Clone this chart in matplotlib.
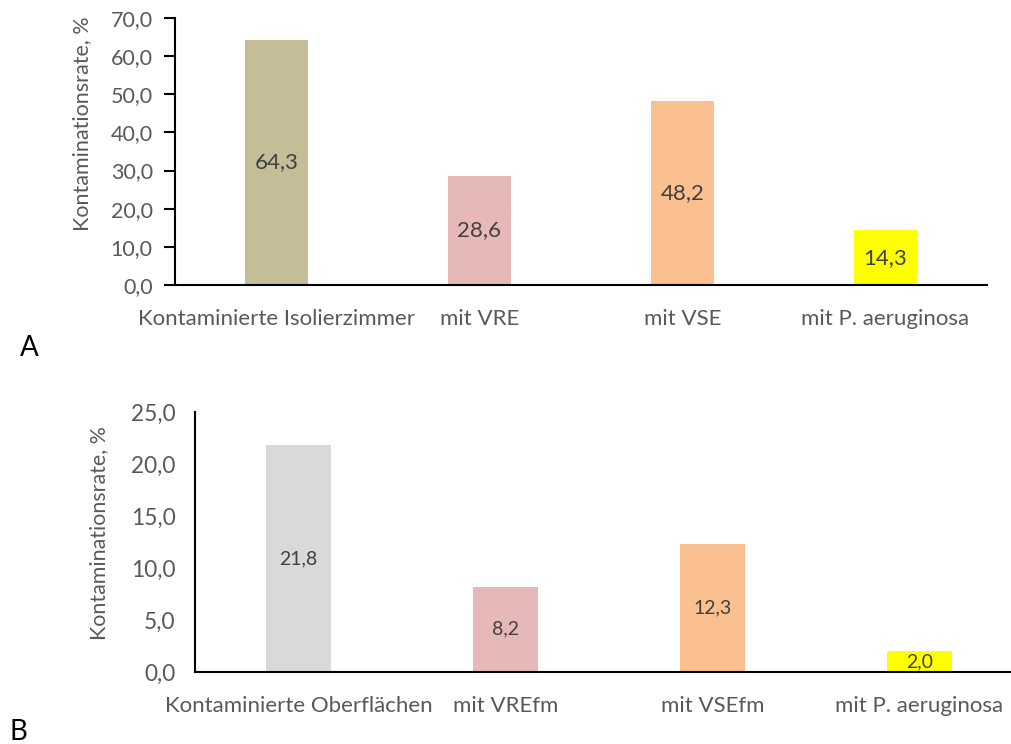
import matplotlib
matplotlib.use("Agg")
import matplotlib.pyplot as plt
from matplotlib.ticker import FixedLocator, FuncFormatter

plt.rcParams['font.family'] = ['Lato', 'DejaVu Sans']

cats_a = ["Kontaminierte Isolierzimmer", "mit VRE", "mit VSE", "mit P. aeruginosa"]
vals_a = [64.3, 28.6, 48.2, 14.3]
cols_a = ["#C4BD97", "#E6B9B8", "#FAC090", "#FFFF00"]

cats_b = ["Kontaminierte Oberflächen", "mit VREfm", "mit VSEfm", "mit P. aeruginosa"]
vals_b = [21.8, 8.2, 12.3, 2.0]
cols_b = ["#D9D9D9", "#E6B9B8", "#FAC090", "#FFFF00"]

ylabel = "Kontaminationsrate, %"

W, H = 1012, 744
fig = plt.figure(figsize=(W/100, H/100), dpi=100)

def fmt(v, pos=None):
    return f"{v:.1f}".replace(".", ",")

def panel(rect, cats, vals, cols, ymax, step, ticks_visible, fs_tick, fs_cat, fs_val, fs_ylab,
          ylab_xy, cat_pad):
    ax = fig.add_axes(rect)
    x = list(range(len(cats)))
    ax.bar(x, vals, width=0.315, color=cols, zorder=2)
    ax.set_xlim(-0.5, len(cats) - 0.5)
    ax.set_ylim(0, ymax)
    ax.yaxis.set_major_locator(FixedLocator([i * step for i in range(int(round(ymax / step)) + 1)]))
    ax.yaxis.set_major_formatter(FuncFormatter(fmt))
    ax.set_xticks(x)
    ax.set_xticklabels(cats)
    for s in ("top", "right"):
        ax.spines[s].set_visible(False)
    for s in ("left", "bottom"):
        ax.spines[s].set_linewidth(1.5)
        ax.spines[s].set_color("black")
    ax.tick_params(axis='x', length=0, pad=cat_pad, labelsize=fs_cat, labelcolor="#595959")
    ax.tick_params(axis='y', length=8 if ticks_visible else 0, width=1.5,
                   pad=8 if ticks_visible else 14, labelsize=fs_tick, labelcolor="#595959")
    for xi, v in zip(x, vals):
        ax.text(xi, v / 2, fmt(v), ha="center", va="center", fontsize=fs_val, color="#404040")
    ax.set_ylabel(ylabel, fontsize=fs_ylab, color="#595959")
    ax.yaxis.set_label_coords(*ylab_xy)
    return ax

# Panel A: x 175..987, y 18..285
axA = panel([175/W, 1 - 285/H, 812/W, 267/H], cats_a, vals_a, cols_a, 70, 10, True,
            15.5, 16, 16, 15.5, (-0.102, 0.603), 17)
# Panel B: x 195..1023, y 412..672
axB = panel([195/W, 1 - 672/H, 828/W, 260/H], cats_b, vals_b, cols_b, 25, 5, False,
            16.3, 16, 14, 15.4, (-0.104, 0.535), 17)

fig.text(20/W, 1 - 348/H, "A", fontsize=20, color="black", ha="left", va="center")
fig.text(10/W, 1 - 732/H, "B", fontsize=20, color="black", ha="left", va="center")

fig.savefig("out.png", dpi=100)
